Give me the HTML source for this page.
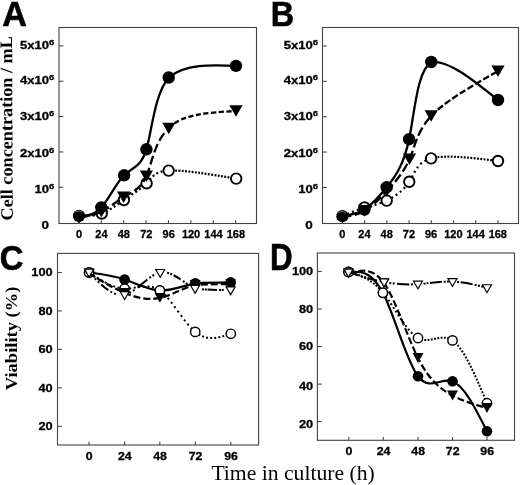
<!DOCTYPE html>
<html><head><meta charset="utf-8"><style>
html,body{margin:0;padding:0;background:#fff;}
svg{display:block;will-change:transform;filter:grayscale(1);}
text{fill:#000;}
.s{font-family:"Liberation Sans",sans-serif;font-weight:bold;}
.rb{font-family:"Liberation Serif",serif;font-weight:bold;}
.r{font-family:"Liberation Serif",serif;font-weight:normal;}
</style></head><body>
<svg width="520" height="485" viewBox="0 0 520 485">
<rect width="520" height="485" fill="#fff"/>
<rect x="59" y="27.5" width="197.5" height="196.0" fill="none" stroke="#444" stroke-width="1.1"/>
<line x1="78.90" y1="223.5" x2="78.90" y2="220.2" stroke="#444" stroke-width="1.1"/>
<line x1="101.29" y1="223.5" x2="101.29" y2="220.2" stroke="#444" stroke-width="1.1"/>
<line x1="123.68" y1="223.5" x2="123.68" y2="220.2" stroke="#444" stroke-width="1.1"/>
<line x1="146.07" y1="223.5" x2="146.07" y2="220.2" stroke="#444" stroke-width="1.1"/>
<line x1="168.46" y1="223.5" x2="168.46" y2="220.2" stroke="#444" stroke-width="1.1"/>
<line x1="190.85" y1="223.5" x2="190.85" y2="220.2" stroke="#444" stroke-width="1.1"/>
<line x1="213.24" y1="223.5" x2="213.24" y2="220.2" stroke="#444" stroke-width="1.1"/>
<line x1="235.63" y1="223.5" x2="235.63" y2="220.2" stroke="#444" stroke-width="1.1"/>
<line x1="59" y1="187.33" x2="63.3" y2="187.33" stroke="#444" stroke-width="1.1"/>
<line x1="59" y1="151.96" x2="63.3" y2="151.96" stroke="#444" stroke-width="1.1"/>
<line x1="59" y1="116.59" x2="63.3" y2="116.59" stroke="#444" stroke-width="1.1"/>
<line x1="59" y1="81.22" x2="63.3" y2="81.22" stroke="#444" stroke-width="1.1"/>
<line x1="59" y1="45.85" x2="63.3" y2="45.85" stroke="#444" stroke-width="1.1"/>
<rect x="322.5" y="27.5" width="196.0" height="196.0" fill="none" stroke="#444" stroke-width="1.1"/>
<line x1="342.40" y1="223.5" x2="342.40" y2="220.2" stroke="#444" stroke-width="1.1"/>
<line x1="364.63" y1="223.5" x2="364.63" y2="220.2" stroke="#444" stroke-width="1.1"/>
<line x1="386.86" y1="223.5" x2="386.86" y2="220.2" stroke="#444" stroke-width="1.1"/>
<line x1="409.09" y1="223.5" x2="409.09" y2="220.2" stroke="#444" stroke-width="1.1"/>
<line x1="431.32" y1="223.5" x2="431.32" y2="220.2" stroke="#444" stroke-width="1.1"/>
<line x1="453.55" y1="223.5" x2="453.55" y2="220.2" stroke="#444" stroke-width="1.1"/>
<line x1="475.78" y1="223.5" x2="475.78" y2="220.2" stroke="#444" stroke-width="1.1"/>
<line x1="498.01" y1="223.5" x2="498.01" y2="220.2" stroke="#444" stroke-width="1.1"/>
<line x1="322.5" y1="187.43" x2="326.8" y2="187.43" stroke="#444" stroke-width="1.1"/>
<line x1="322.5" y1="152.06" x2="326.8" y2="152.06" stroke="#444" stroke-width="1.1"/>
<line x1="322.5" y1="116.69" x2="326.8" y2="116.69" stroke="#444" stroke-width="1.1"/>
<line x1="322.5" y1="81.32" x2="326.8" y2="81.32" stroke="#444" stroke-width="1.1"/>
<line x1="322.5" y1="45.95" x2="326.8" y2="45.95" stroke="#444" stroke-width="1.1"/>
<path d="M79.00 215.90 C86.45 215.71 93.90 215.52 101.30 207.40 C108.70 199.28 116.06 183.24 124.10 175.30 C132.14 167.36 140.85 167.52 146.40 149.30 C151.95 131.08 154.34 94.46 168.75 77.50 C185.16 63.81 210.58 64.85 236.00 65.90" fill="none" stroke="#000" stroke-width="2.3" stroke-linecap="butt"/>
<circle cx="101.30" cy="207.40" r="6.2" fill="#000"/>
<circle cx="124.10" cy="175.30" r="6.2" fill="#000"/>
<circle cx="146.40" cy="149.30" r="6.2" fill="#000"/>
<circle cx="168.75" cy="77.50" r="6.2" fill="#000"/>
<circle cx="236.00" cy="65.90" r="6.2" fill="#000"/>
<path d="M79.00 215.90 C86.70 216.02 94.40 216.14 101.70 213.50" fill="none" stroke="#000" stroke-width="2.2" stroke-dasharray="2 2.6" stroke-linecap="butt"/>
<path d="M101.70 213.50 C109.00 210.86 115.90 205.44 123.90 200.00" fill="none" stroke="#000" stroke-width="2.2" stroke-dasharray="2 2.6" stroke-linecap="butt"/>
<path d="M123.90 200.00 C131.90 194.56 141.00 189.08 146.60 183.30" fill="none" stroke="#000" stroke-width="2.2" stroke-dasharray="2 2.6" stroke-linecap="butt"/>
<path d="M146.60 183.30 C152.20 177.52 154.30 171.43 168.65 170.60" fill="none" stroke="#000" stroke-width="2.2" stroke-dasharray="2 2.6" stroke-linecap="butt"/>
<path d="M168.65 170.60 C183.00 169.77 209.60 174.18 236.20 178.60" fill="none" stroke="#000" stroke-width="2.2" stroke-dasharray="1.9 1.4" stroke-linecap="butt"/>
<circle cx="101.70" cy="213.50" r="5.25" fill="#fff" stroke="#000" stroke-width="1.9"/>
<circle cx="123.90" cy="200.00" r="5.25" fill="#fff" stroke="#000" stroke-width="1.9"/>
<circle cx="146.60" cy="183.30" r="5.25" fill="#fff" stroke="#000" stroke-width="1.9"/>
<circle cx="168.65" cy="170.60" r="5.25" fill="#fff" stroke="#000" stroke-width="1.9"/>
<circle cx="236.20" cy="178.60" r="5.25" fill="#fff" stroke="#000" stroke-width="1.9"/>
<path d="M79.00 217.40 C86.57 216.40 94.15 215.41 101.40 211.80" fill="none" stroke="#000" stroke-width="2.3" stroke-dasharray="9 3.6" stroke-linecap="butt"/>
<path d="M101.40 211.80 C108.65 208.19 115.59 201.98 123.60 197.20" fill="none" stroke="#000" stroke-width="2.3" stroke-dasharray="9 3.6" stroke-linecap="butt"/>
<path d="M123.60 197.20 C131.61 192.42 140.70 189.07 146.40 176.20" fill="none" stroke="#000" stroke-width="2.3" stroke-dasharray="9 3.6" stroke-linecap="butt"/>
<path d="M146.40 176.20 C152.10 163.33 154.43 140.95 168.80 128.50" fill="none" stroke="#000" stroke-width="2.3" stroke-dasharray="9 3.6" stroke-linecap="butt"/>
<path d="M168.80 128.50 C180.76 114.06 208.38 112.53 236.00 111.00" fill="none" stroke="#000" stroke-width="2.3" stroke-dasharray="5.2 2.5" stroke-linecap="butt"/>
<path d="M94.80 206.00 L108.00 206.00 L101.40 217.60 Z" fill="#000"/>
<path d="M117.00 191.40 L130.20 191.40 L123.60 203.00 Z" fill="#000"/>
<path d="M139.80 170.40 L153.00 170.40 L146.40 182.00 Z" fill="#000"/>
<path d="M162.20 122.70 L175.40 122.70 L168.80 134.30 Z" fill="#000"/>
<path d="M229.40 105.20 L242.60 105.20 L236.00 116.80 Z" fill="#000"/>
<path d="M76.80 220.90 L81.20 220.90 L79.00 223.00 Z" fill="#000"/>
<circle cx="79.00" cy="215.90" r="6.15" fill="#000"/>
<path d="M75.40 212.00 Q79.00 210.30 82.60 212.00" fill="none" stroke="#999" stroke-width="0.7"/>
<path d="M342.40 216.20 C349.78 215.12 357.16 214.03 364.40 209.50 C371.64 204.97 378.73 196.99 386.70 187.20 C394.67 177.41 403.52 165.79 409.10 139.20 C414.68 112.61 416.98 71.03 431.25 62.00 C447.91 59.48 472.96 79.74 498.00 100.00" fill="none" stroke="#000" stroke-width="2.3" stroke-linecap="butt"/>
<circle cx="364.40" cy="209.50" r="6.2" fill="#000"/>
<circle cx="386.70" cy="187.20" r="6.2" fill="#000"/>
<circle cx="409.10" cy="139.20" r="6.2" fill="#000"/>
<circle cx="431.25" cy="62.00" r="6.2" fill="#000"/>
<circle cx="498.00" cy="100.00" r="6.2" fill="#000"/>
<path d="M342.40 216.20 C349.84 212.92 357.28 209.65 364.50 207.50" fill="none" stroke="#000" stroke-width="2.2" stroke-dasharray="2 3.2" stroke-linecap="butt"/>
<path d="M364.50 207.50 C371.72 205.35 378.70 204.34 386.70 200.60" fill="none" stroke="#000" stroke-width="2.2" stroke-dasharray="2 3.2" stroke-linecap="butt"/>
<path d="M386.70 200.60 C394.70 196.86 403.70 190.41 409.25 181.75" fill="none" stroke="#000" stroke-width="2.2" stroke-dasharray="2 3.2" stroke-linecap="butt"/>
<path d="M409.25 181.75 C414.80 173.09 416.88 162.23 431.10 158.40" fill="none" stroke="#000" stroke-width="2.2" stroke-dasharray="2 3.2" stroke-linecap="butt"/>
<path d="M431.10 158.40 C445.32 154.57 471.66 157.79 498.00 161.00" fill="none" stroke="#000" stroke-width="2.2" stroke-dasharray="1.9 1.4" stroke-linecap="butt"/>
<circle cx="364.50" cy="207.50" r="5.25" fill="#fff" stroke="#000" stroke-width="1.9"/>
<circle cx="386.70" cy="200.60" r="5.25" fill="#fff" stroke="#000" stroke-width="1.9"/>
<circle cx="409.25" cy="181.75" r="5.25" fill="#fff" stroke="#000" stroke-width="1.9"/>
<circle cx="431.10" cy="158.40" r="5.25" fill="#fff" stroke="#000" stroke-width="1.9"/>
<circle cx="498.00" cy="161.00" r="5.25" fill="#fff" stroke="#000" stroke-width="1.9"/>
<path d="M342.40 217.00 C349.84 215.98 357.27 214.97 364.50 210.90" fill="none" stroke="#000" stroke-width="2.3" stroke-dasharray="9 3.6" stroke-linecap="butt"/>
<path d="M364.50 210.90 C371.73 206.83 378.74 199.71 386.80 191.00" fill="none" stroke="#000" stroke-width="2.3" stroke-dasharray="9 3.6" stroke-linecap="butt"/>
<path d="M386.80 191.00 C394.86 182.29 403.95 172.00 409.50 159.20" fill="none" stroke="#000" stroke-width="2.3" stroke-dasharray="9 3.6" stroke-linecap="butt"/>
<path d="M409.50 159.20 C415.05 146.40 417.04 131.09 431.20 116.00" fill="none" stroke="#000" stroke-width="2.3" stroke-dasharray="9 3.6" stroke-linecap="butt"/>
<path d="M431.20 116.00 C445.36 100.91 471.68 86.06 498.00 71.20" fill="none" stroke="#000" stroke-width="2.3" stroke-dasharray="6.7 2.4" stroke-linecap="butt"/>
<path d="M357.90 205.10 L371.10 205.10 L364.50 216.70 Z" fill="#000"/>
<path d="M380.20 185.20 L393.40 185.20 L386.80 196.80 Z" fill="#000"/>
<path d="M402.90 153.40 L416.10 153.40 L409.50 165.00 Z" fill="#000"/>
<path d="M424.60 110.20 L437.80 110.20 L431.20 121.80 Z" fill="#000"/>
<path d="M491.40 65.40 L504.60 65.40 L498.00 77.00 Z" fill="#000"/>
<path d="M340.20 221.20 L344.60 221.20 L342.40 222.60 Z" fill="#000"/>
<circle cx="342.40" cy="216.20" r="6.15" fill="#000"/>
<path d="M338.80 212.30 Q342.40 210.60 346.00 212.30" fill="none" stroke="#999" stroke-width="0.7"/>
<rect x="57.5" y="253.4" width="201.10000000000002" height="191.6" fill="none" stroke="#444" stroke-width="1.1"/>
<line x1="89.00" y1="445" x2="89.00" y2="441.7" stroke="#444" stroke-width="1.1"/>
<line x1="124.60" y1="445" x2="124.60" y2="441.7" stroke="#444" stroke-width="1.1"/>
<line x1="159.80" y1="445" x2="159.80" y2="441.7" stroke="#444" stroke-width="1.1"/>
<line x1="195.30" y1="445" x2="195.30" y2="441.7" stroke="#444" stroke-width="1.1"/>
<line x1="230.80" y1="445" x2="230.80" y2="441.7" stroke="#444" stroke-width="1.1"/>
<line x1="57.5" y1="272.50" x2="61.8" y2="272.50" stroke="#444" stroke-width="1.1"/>
<line x1="57.5" y1="310.95" x2="61.8" y2="310.95" stroke="#444" stroke-width="1.1"/>
<line x1="57.5" y1="349.40" x2="61.8" y2="349.40" stroke="#444" stroke-width="1.1"/>
<line x1="57.5" y1="387.85" x2="61.8" y2="387.85" stroke="#444" stroke-width="1.1"/>
<line x1="57.5" y1="426.30" x2="61.8" y2="426.30" stroke="#444" stroke-width="1.1"/>
<rect x="317.4" y="253.0" width="197.10000000000002" height="187.3" fill="none" stroke="#444" stroke-width="1.1"/>
<line x1="348.80" y1="440.3" x2="348.80" y2="437.0" stroke="#444" stroke-width="1.1"/>
<line x1="383.30" y1="440.3" x2="383.30" y2="437.0" stroke="#444" stroke-width="1.1"/>
<line x1="418.00" y1="440.3" x2="418.00" y2="437.0" stroke="#444" stroke-width="1.1"/>
<line x1="452.50" y1="440.3" x2="452.50" y2="437.0" stroke="#444" stroke-width="1.1"/>
<line x1="487.00" y1="440.3" x2="487.00" y2="437.0" stroke="#444" stroke-width="1.1"/>
<line x1="317.4" y1="271.50" x2="321.7" y2="271.50" stroke="#444" stroke-width="1.1"/>
<line x1="317.4" y1="309.03" x2="321.7" y2="309.03" stroke="#444" stroke-width="1.1"/>
<line x1="317.4" y1="346.56" x2="321.7" y2="346.56" stroke="#444" stroke-width="1.1"/>
<line x1="317.4" y1="384.09" x2="321.7" y2="384.09" stroke="#444" stroke-width="1.1"/>
<line x1="317.4" y1="421.62" x2="321.7" y2="421.62" stroke="#444" stroke-width="1.1"/>
<path d="M89.10 272.50 C100.95 274.01 112.80 275.51 124.60 279.50 C136.40 283.49 148.13 289.96 159.90 290.50 C171.67 291.04 183.46 285.64 195.25 283.30 C207.03 282.69 218.82 282.55 230.60 282.40" fill="none" stroke="#000" stroke-width="2.2" stroke-linecap="butt"/>
<circle cx="89.10" cy="272.50" r="5.3" fill="#000"/>
<circle cx="124.60" cy="279.50" r="5.3" fill="#000"/>
<circle cx="159.90" cy="290.50" r="5.3" fill="#000"/>
<circle cx="195.25" cy="283.30" r="5.3" fill="#000"/>
<circle cx="230.60" cy="282.40" r="5.3" fill="#000"/>
<path d="M89.10 272.50 C100.95 280.31 112.80 288.12 124.60 288.60" fill="none" stroke="#000" stroke-width="2.0" stroke-dasharray="2 2.6" stroke-linecap="butt"/>
<path d="M124.60 288.60 C136.40 289.08 148.15 282.23 159.90 290.50" fill="none" stroke="#000" stroke-width="2.0" stroke-dasharray="2 2.6" stroke-linecap="butt"/>
<path d="M159.90 290.50 C171.65 298.77 183.38 322.16 195.20 331.90" fill="none" stroke="#000" stroke-width="2.0" stroke-dasharray="2 3.4" stroke-linecap="butt"/>
<path d="M195.20 331.90 C207.02 341.64 218.91 337.72 230.80 333.80" fill="none" stroke="#000" stroke-width="2.0" stroke-dasharray="2 2.1" stroke-linecap="butt"/>
<circle cx="89.10" cy="272.50" r="4.675000000000001" fill="#fff" stroke="#000" stroke-width="1.45"/>
<circle cx="124.60" cy="288.60" r="4.675000000000001" fill="#fff" stroke="#000" stroke-width="1.45"/>
<circle cx="159.90" cy="290.50" r="4.675000000000001" fill="#fff" stroke="#000" stroke-width="1.45"/>
<circle cx="195.20" cy="331.90" r="4.675000000000001" fill="#fff" stroke="#000" stroke-width="1.45"/>
<circle cx="230.80" cy="333.80" r="4.675000000000001" fill="#fff" stroke="#000" stroke-width="1.45"/>
<path d="M89.10 273.50 C100.95 280.75 112.80 287.99 124.60 292.90 C136.40 297.81 148.15 300.37 159.90 297.90 C171.65 295.43 183.42 287.92 195.20 284.80 C207.00 284.16 218.80 284.18 230.60 284.20" fill="none" stroke="#000" stroke-width="2.2" stroke-dasharray="7 3" stroke-linecap="butt"/>
<path d="M83.70 268.60 L94.50 268.60 L89.10 278.40 Z" fill="#000"/>
<path d="M119.20 288.00 L130.00 288.00 L124.60 297.80 Z" fill="#000"/>
<path d="M154.50 293.00 L165.30 293.00 L159.90 302.80 Z" fill="#000"/>
<path d="M189.80 279.90 L200.60 279.90 L195.20 289.70 Z" fill="#000"/>
<path d="M225.20 279.30 L236.00 279.30 L230.60 289.10 Z" fill="#000"/>
<path d="M89.10 272.30 C100.90 284.74 112.71 297.18 124.60 294.70" fill="none" stroke="#000" stroke-width="2.0" stroke-dasharray="0 8.2 2 2.3 2 2.5 9.2 2.5 2 2.1 2 100" stroke-linecap="butt"/>
<path d="M124.60 294.70 C136.49 292.22 148.47 274.81 160.20 272.50" fill="none" stroke="#000" stroke-width="2.0" stroke-dasharray="0 5 2 2.2 2 3.8 12.5 2.5 2 1.8 2 100" stroke-linecap="butt"/>
<path d="M160.20 272.50 C171.93 270.19 183.41 282.98 195.10 288.40" fill="none" stroke="#000" stroke-width="2.0" stroke-dasharray="0 7 2 1.3 2 1.8 8 2.8 2 1.5 2 100" stroke-linecap="butt"/>
<path d="M195.10 288.40 C206.90 290.13 218.75 290.01 230.60 289.90" fill="none" stroke="#000" stroke-width="2.0" stroke-dasharray="0 7 2 0.8 2 0.7 9.4 2 2 0.8 2 100" stroke-linecap="butt"/>
<path d="M83.60 268.70 L94.60 268.70 L89.10 278.30 Z" fill="#000"/>
<path d="M85.58 269.85 L92.62 269.85 L89.10 275.99 Z" fill="#fff"/>
<path d="M119.10 291.10 L130.10 291.10 L124.60 300.70 Z" fill="#000"/>
<path d="M121.08 292.25 L128.12 292.25 L124.60 298.39 Z" fill="#fff"/>
<path d="M154.70 268.90 L165.70 268.90 L160.20 278.50 Z" fill="#000"/>
<path d="M156.68 270.05 L163.72 270.05 L160.20 276.19 Z" fill="#fff"/>
<path d="M189.60 284.80 L200.60 284.80 L195.10 294.40 Z" fill="#000"/>
<path d="M191.58 285.95 L198.62 285.95 L195.10 292.09 Z" fill="#fff"/>
<path d="M225.10 286.30 L236.10 286.30 L230.60 295.90 Z" fill="#000"/>
<path d="M227.08 287.45 L234.12 287.45 L230.60 293.59 Z" fill="#fff"/>
<path d="M348.50 271.90 C359.94 271.25 371.39 270.61 383.00 293.00 C394.61 315.39 406.40 360.83 418.00 376.25 C429.60 391.67 441.03 377.09 452.50 381.25 C463.97 385.41 475.49 408.33 487.00 431.25" fill="none" stroke="#000" stroke-width="2.2" stroke-linecap="butt"/>
<circle cx="348.50" cy="271.90" r="5.3" fill="#000"/>
<circle cx="383.00" cy="293.00" r="5.3" fill="#000"/>
<circle cx="418.00" cy="376.25" r="5.3" fill="#000"/>
<circle cx="452.50" cy="381.25" r="5.3" fill="#000"/>
<circle cx="487.00" cy="431.25" r="5.3" fill="#000"/>
<path d="M348.50 271.90 C359.89 275.26 371.28 278.63 382.90 292.70" fill="none" stroke="#000" stroke-width="2.0" stroke-dasharray="1.9 1.5" stroke-linecap="butt"/>
<path d="M382.90 292.70 C394.52 306.77 406.37 331.55 418.00 338.00" fill="none" stroke="#000" stroke-width="2.0" stroke-dasharray="2 2.4" stroke-linecap="butt"/>
<path d="M418.00 338.00 C429.63 344.45 441.04 332.58 452.50 340.40" fill="none" stroke="#000" stroke-width="2.0" stroke-dasharray="1.9 1.4" stroke-linecap="butt"/>
<path d="M452.50 340.40 C463.96 348.22 475.48 375.74 487.00 403.25" fill="none" stroke="#000" stroke-width="2.0" stroke-dasharray="1.9 1.6" stroke-linecap="butt"/>
<circle cx="348.50" cy="271.90" r="4.675000000000001" fill="#fff" stroke="#000" stroke-width="1.45"/>
<circle cx="382.90" cy="292.70" r="4.675000000000001" fill="#fff" stroke="#000" stroke-width="1.45"/>
<circle cx="418.00" cy="338.00" r="4.675000000000001" fill="#fff" stroke="#000" stroke-width="1.45"/>
<circle cx="452.50" cy="340.40" r="4.675000000000001" fill="#fff" stroke="#000" stroke-width="1.45"/>
<circle cx="487.00" cy="403.25" r="4.675000000000001" fill="#fff" stroke="#000" stroke-width="1.45"/>
<path d="M348.50 273.40 C360.53 270.12 372.57 266.85 384.10 283.20 C395.63 299.55 406.67 335.53 418.00 358.00 C429.33 380.47 440.95 389.42 452.50 395.50 C464.05 401.58 475.52 404.79 487.00 408.00" fill="none" stroke="#000" stroke-width="2.2" stroke-dasharray="7 3" stroke-linecap="butt"/>
<path d="M343.10 268.50 L353.90 268.50 L348.50 278.30 Z" fill="#000"/>
<path d="M378.70 278.30 L389.50 278.30 L384.10 288.10 Z" fill="#000"/>
<path d="M412.60 353.10 L423.40 353.10 L418.00 362.90 Z" fill="#000"/>
<path d="M447.10 390.60 L457.90 390.60 L452.50 400.40 Z" fill="#000"/>
<path d="M481.60 403.10 L492.40 403.10 L487.00 412.90 Z" fill="#000"/>
<path d="M348.50 272.20 C360.53 275.99 372.57 279.79 384.10 282.00" fill="none" stroke="#000" stroke-width="2.0" stroke-dasharray="10 2.6 2 1.6 2 1.5" stroke-linecap="butt"/>
<path d="M384.10 282.00 C395.63 284.21 406.67 284.85 418.00 284.10" fill="none" stroke="#000" stroke-width="2.0" stroke-dasharray="0 5.2 2 1.4 2 2.3 12.5 1.6 2 100" stroke-linecap="butt"/>
<path d="M418.00 284.10 C429.33 283.35 440.95 281.21 452.50 281.60" fill="none" stroke="#000" stroke-width="2.0" stroke-dasharray="0 5.6 2 1 2 1.4 12 1.8 2 1.2 2 100" stroke-linecap="butt"/>
<path d="M452.50 281.60 C464.05 281.99 475.52 284.89 487.00 287.80" fill="none" stroke="#000" stroke-width="2.0" stroke-dasharray="0 4.6 2 1.6 12.2 2 2 1.4 2 1.4 2 100" stroke-linecap="butt"/>
<path d="M343.00 268.60 L354.00 268.60 L348.50 278.20 Z" fill="#000"/>
<path d="M344.98 269.75 L352.02 269.75 L348.50 275.89 Z" fill="#fff"/>
<path d="M378.60 278.40 L389.60 278.40 L384.10 288.00 Z" fill="#000"/>
<path d="M380.58 279.55 L387.62 279.55 L384.10 285.69 Z" fill="#fff"/>
<path d="M412.50 280.50 L423.50 280.50 L418.00 290.10 Z" fill="#000"/>
<path d="M414.48 281.65 L421.52 281.65 L418.00 287.79 Z" fill="#fff"/>
<path d="M447.00 278.00 L458.00 278.00 L452.50 287.60 Z" fill="#000"/>
<path d="M448.98 279.15 L456.02 279.15 L452.50 285.29 Z" fill="#fff"/>
<path d="M481.50 284.20 L492.50 284.20 L487.00 293.80 Z" fill="#000"/>
<path d="M483.48 285.35 L490.52 285.35 L487.00 291.49 Z" fill="#fff"/>
<text transform="translate(2.20,26.20) scale(0.96,1)" font-size="35.6" text-anchor="start" class="s" stroke="#000" stroke-width="0.6">A</text>
<text transform="translate(270.70,25.70) scale(0.91,1)" font-size="35.6" text-anchor="start" class="s" stroke="#000" stroke-width="0.6">B</text>
<text transform="translate(-0.30,270.40) scale(0.91,1)" font-size="36" text-anchor="start" class="s" stroke="#000" stroke-width="0.6">C</text>
<text transform="translate(270.00,270.40) scale(0.87,1)" font-size="36" text-anchor="start" class="s" stroke="#000" stroke-width="0.6">D</text>
<text transform="translate(54.3,193.40) scale(1.17,1)" font-size="11.2" text-anchor="end" class="s" stroke="#000" stroke-width="0.3">10<tspan font-size="8" dy="-4.1">6</tspan></text>
<text transform="translate(318,193.40) scale(1.17,1)" font-size="11.2" text-anchor="end" class="s" stroke="#000" stroke-width="0.3">10<tspan font-size="8" dy="-4.1">6</tspan></text>
<text transform="translate(54.3,156.70) scale(1.17,1)" font-size="11.2" text-anchor="end" class="s" stroke="#000" stroke-width="0.3">2x10<tspan font-size="8" dy="-4.1">6</tspan></text>
<text transform="translate(318,156.70) scale(1.17,1)" font-size="11.2" text-anchor="end" class="s" stroke="#000" stroke-width="0.3">2x10<tspan font-size="8" dy="-4.1">6</tspan></text>
<text transform="translate(54.3,120.20) scale(1.17,1)" font-size="11.2" text-anchor="end" class="s" stroke="#000" stroke-width="0.3">3x10<tspan font-size="8" dy="-4.1">6</tspan></text>
<text transform="translate(318,120.20) scale(1.17,1)" font-size="11.2" text-anchor="end" class="s" stroke="#000" stroke-width="0.3">3x10<tspan font-size="8" dy="-4.1">6</tspan></text>
<text transform="translate(54.3,84.10) scale(1.17,1)" font-size="11.2" text-anchor="end" class="s" stroke="#000" stroke-width="0.3">4x10<tspan font-size="8" dy="-4.1">6</tspan></text>
<text transform="translate(318,84.10) scale(1.17,1)" font-size="11.2" text-anchor="end" class="s" stroke="#000" stroke-width="0.3">4x10<tspan font-size="8" dy="-4.1">6</tspan></text>
<text transform="translate(54.3,49.05) scale(1.17,1)" font-size="11.2" text-anchor="end" class="s" stroke="#000" stroke-width="0.3">5x10<tspan font-size="8" dy="-4.1">6</tspan></text>
<text transform="translate(318,49.05) scale(1.17,1)" font-size="11.2" text-anchor="end" class="s" stroke="#000" stroke-width="0.3">5x10<tspan font-size="8" dy="-4.1">6</tspan></text>
<text transform="translate(49.00,229.20) scale(1.18,1)" font-size="11.4" text-anchor="end" class="s" stroke="#000" stroke-width="0.3">0</text>
<text transform="translate(312.70,229.20) scale(1.18,1)" font-size="11.4" text-anchor="end" class="s" stroke="#000" stroke-width="0.3">0</text>
<text transform="translate(79.10,238.20) scale(1.0,1)" font-size="11" text-anchor="middle" class="s" stroke="#000" stroke-width="0.3">0</text>
<text transform="translate(342.20,237.80) scale(1.0,1)" font-size="11" text-anchor="middle" class="s" stroke="#000" stroke-width="0.3">0</text>
<text transform="translate(101.49,238.20) scale(1.0,1)" font-size="11" text-anchor="middle" class="s" stroke="#000" stroke-width="0.3">24</text>
<text transform="translate(364.43,237.80) scale(1.0,1)" font-size="11" text-anchor="middle" class="s" stroke="#000" stroke-width="0.3">24</text>
<text transform="translate(123.88,238.20) scale(1.0,1)" font-size="11" text-anchor="middle" class="s" stroke="#000" stroke-width="0.3">48</text>
<text transform="translate(386.66,237.80) scale(1.0,1)" font-size="11" text-anchor="middle" class="s" stroke="#000" stroke-width="0.3">48</text>
<text transform="translate(146.27,238.20) scale(1.0,1)" font-size="11" text-anchor="middle" class="s" stroke="#000" stroke-width="0.3">72</text>
<text transform="translate(408.89,237.80) scale(1.0,1)" font-size="11" text-anchor="middle" class="s" stroke="#000" stroke-width="0.3">72</text>
<text transform="translate(168.66,238.20) scale(1.0,1)" font-size="11" text-anchor="middle" class="s" stroke="#000" stroke-width="0.3">96</text>
<text transform="translate(431.12,237.80) scale(1.0,1)" font-size="11" text-anchor="middle" class="s" stroke="#000" stroke-width="0.3">96</text>
<text transform="translate(191.05,238.20) scale(1.0,1)" font-size="11" text-anchor="middle" class="s" stroke="#000" stroke-width="0.3">120</text>
<text transform="translate(453.35,237.80) scale(1.0,1)" font-size="11" text-anchor="middle" class="s" stroke="#000" stroke-width="0.3">120</text>
<text transform="translate(213.44,238.20) scale(1.0,1)" font-size="11" text-anchor="middle" class="s" stroke="#000" stroke-width="0.3">144</text>
<text transform="translate(475.58,237.80) scale(1.0,1)" font-size="11" text-anchor="middle" class="s" stroke="#000" stroke-width="0.3">144</text>
<text transform="translate(235.83,238.20) scale(1.0,1)" font-size="11" text-anchor="middle" class="s" stroke="#000" stroke-width="0.3">168</text>
<text transform="translate(497.81,237.80) scale(1.0,1)" font-size="11" text-anchor="middle" class="s" stroke="#000" stroke-width="0.3">168</text>
<text transform="translate(52.60,276.30) scale(1.12,1)" font-size="11.4" text-anchor="end" class="s" stroke="#000" stroke-width="0.3">100</text>
<text transform="translate(313.20,275.20) scale(1.12,1)" font-size="11.4" text-anchor="end" class="s" stroke="#000" stroke-width="0.3">100</text>
<text transform="translate(52.60,314.75) scale(1.12,1)" font-size="11.4" text-anchor="end" class="s" stroke="#000" stroke-width="0.3">80</text>
<text transform="translate(313.20,312.90) scale(1.12,1)" font-size="11.4" text-anchor="end" class="s" stroke="#000" stroke-width="0.3">80</text>
<text transform="translate(52.60,353.20) scale(1.12,1)" font-size="11.4" text-anchor="end" class="s" stroke="#000" stroke-width="0.3">60</text>
<text transform="translate(313.20,350.20) scale(1.12,1)" font-size="11.4" text-anchor="end" class="s" stroke="#000" stroke-width="0.3">60</text>
<text transform="translate(52.60,391.65) scale(1.12,1)" font-size="11.4" text-anchor="end" class="s" stroke="#000" stroke-width="0.3">40</text>
<text transform="translate(313.20,390.00) scale(1.12,1)" font-size="11.4" text-anchor="end" class="s" stroke="#000" stroke-width="0.3">40</text>
<text transform="translate(52.60,430.10) scale(1.12,1)" font-size="11.4" text-anchor="end" class="s" stroke="#000" stroke-width="0.3">20</text>
<text transform="translate(313.20,427.50) scale(1.12,1)" font-size="11.4" text-anchor="end" class="s" stroke="#000" stroke-width="0.3">20</text>
<text transform="translate(89.20,459.90) scale(1.1,1)" font-size="11.2" text-anchor="middle" class="s" stroke="#000" stroke-width="0.3">0</text>
<text transform="translate(124.80,459.90) scale(1.1,1)" font-size="11.2" text-anchor="middle" class="s" stroke="#000" stroke-width="0.3">24</text>
<text transform="translate(160.00,459.90) scale(1.1,1)" font-size="11.2" text-anchor="middle" class="s" stroke="#000" stroke-width="0.3">48</text>
<text transform="translate(195.50,459.90) scale(1.1,1)" font-size="11.2" text-anchor="middle" class="s" stroke="#000" stroke-width="0.3">72</text>
<text transform="translate(231.00,459.90) scale(1.1,1)" font-size="11.2" text-anchor="middle" class="s" stroke="#000" stroke-width="0.3">96</text>
<text transform="translate(349.00,455.30) scale(1.1,1)" font-size="11.2" text-anchor="middle" class="s" stroke="#000" stroke-width="0.3">0</text>
<text transform="translate(383.50,455.30) scale(1.1,1)" font-size="11.2" text-anchor="middle" class="s" stroke="#000" stroke-width="0.3">24</text>
<text transform="translate(418.20,455.30) scale(1.1,1)" font-size="11.2" text-anchor="middle" class="s" stroke="#000" stroke-width="0.3">48</text>
<text transform="translate(452.70,455.30) scale(1.1,1)" font-size="11.2" text-anchor="middle" class="s" stroke="#000" stroke-width="0.3">72</text>
<text transform="translate(487.20,455.30) scale(1.1,1)" font-size="11.2" text-anchor="middle" class="s" stroke="#000" stroke-width="0.3">96</text>
<text transform="translate(12.7,220.5) rotate(-90.2) scale(1.04,1)" font-size="17.5" class="rb">Cell concentration / mL</text>
<text transform="translate(17.4,390.2) rotate(-90) scale(1.045,1)" font-size="17.7" class="rb">Viability (%)</text>
<text x="211.4" y="479.6" font-size="21.4" textLength="163.4" lengthAdjust="spacingAndGlyphs" class="r">Time in culture (h)</text>
</svg>
</body></html>
